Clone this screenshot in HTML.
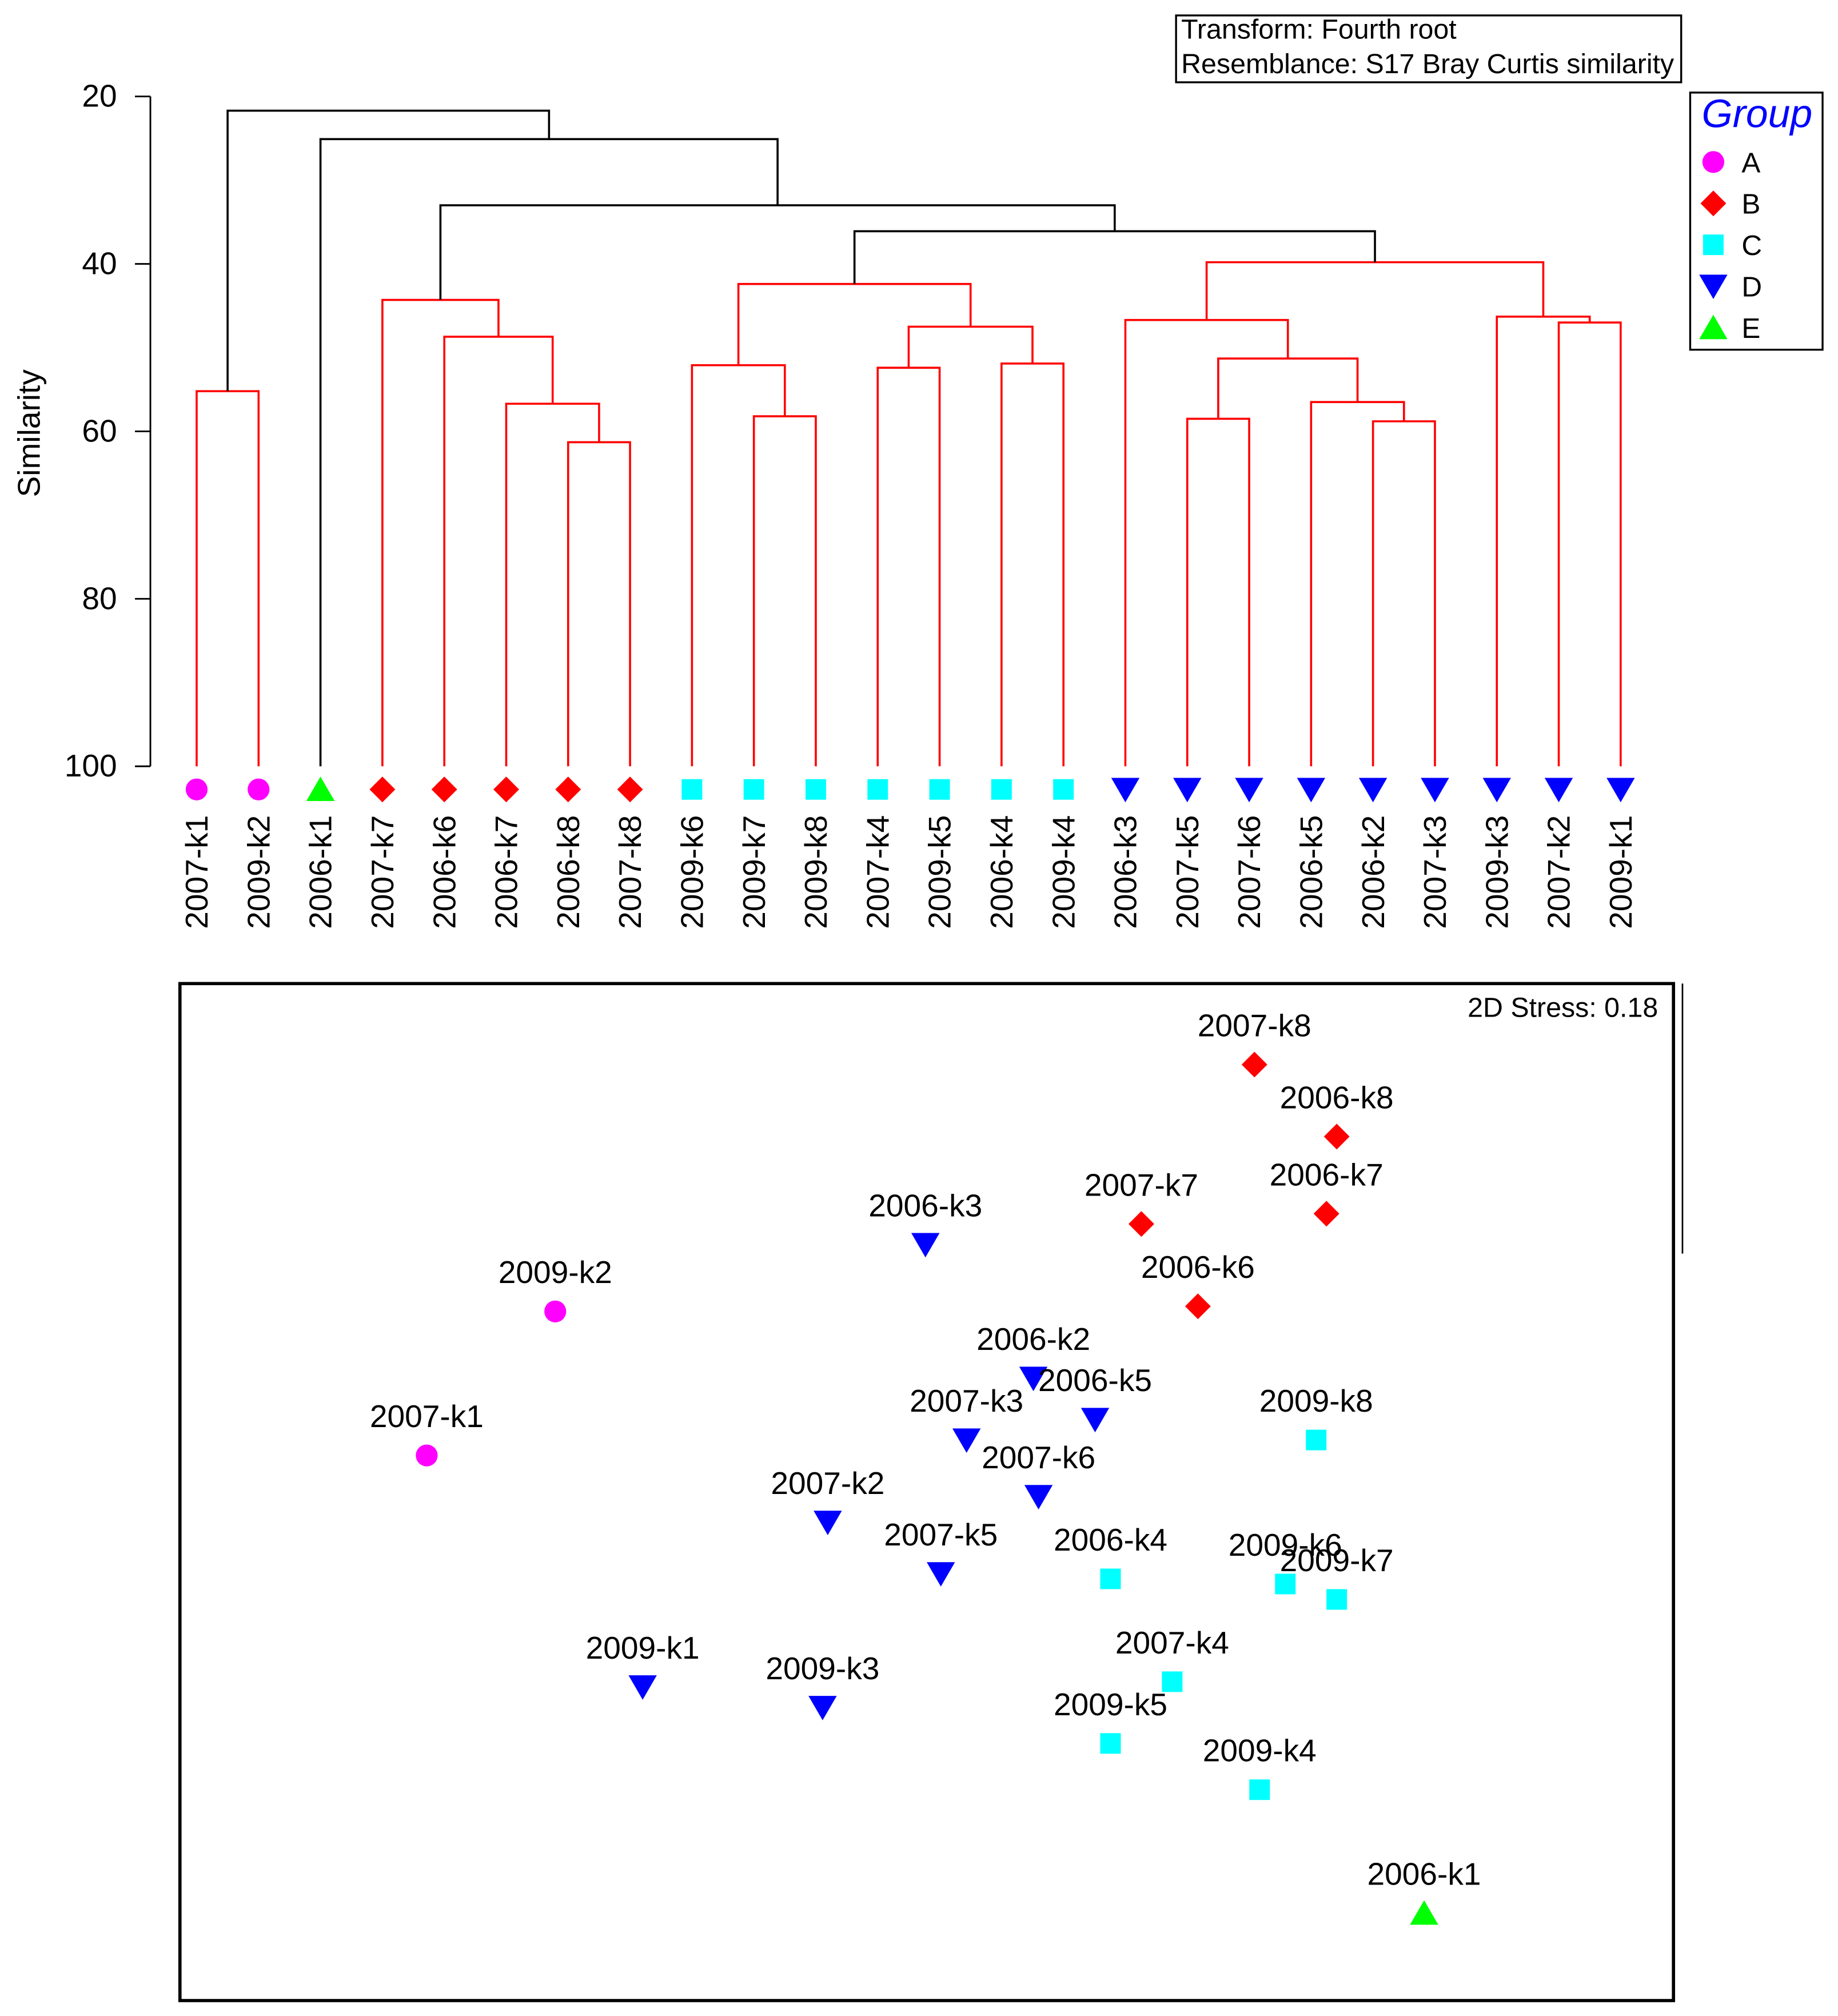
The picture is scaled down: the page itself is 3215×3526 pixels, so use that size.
<!DOCTYPE html>
<html><head><meta charset="utf-8"><style>
html,body{margin:0;padding:0;background:#fff}
svg{display:block;font-family:"Liberation Sans",Arial,sans-serif}
</style></head><body>
<svg id="fig" width="3215" height="3526" viewBox="0 0 1430 1568" preserveAspectRatio="none" xmlns="http://www.w3.org/2000/svg">
<rect x="0" y="0" width="1430" height="1568" fill="#fff"/>
<g>
<rect x="915" y="12" width="393" height="52" fill="none" stroke="#000" stroke-width="1.5"/>
<text x="919" y="30" font-size="21.5">Transform: Fourth root</text>
<text x="919" y="57" font-size="21.5">Resemblance: S17 Bray Curtis similarity</text>
</g>
<g>
<rect x="1315" y="72" width="103" height="200" fill="none" stroke="#000" stroke-width="1.5"/>
<text x="1367" y="99" font-size="31" font-style="italic" fill="#0000ff" text-anchor="middle">Group</text>
<g id="legendItems"></g>
</g>
<g id="dendro"></g>
<g>
<rect x="140" y="765" width="1162" height="791" fill="none" stroke="#000" stroke-width="2.5"/>
<line x1="1309" y1="765" x2="1309" y2="975" stroke="#000" stroke-width="1.2"/>
<text x="1290" y="791" font-size="21.5" text-anchor="end">2D Stress: 0.18</text>
<g id="mds"></g>
</g>
</svg>
<script>
const leafLabels=["2007-k1","2009-k2","2006-k1","2007-k7","2006-k6","2006-k7","2006-k8","2007-k8","2009-k6","2009-k7","2009-k8","2007-k4","2009-k5","2006-k4","2009-k4","2006-k3","2007-k5","2007-k6","2006-k5","2006-k2","2007-k3","2009-k3","2007-k2","2009-k1"];
const leafGroups=["A","A","E","B","B","B","B","B","C","C","C","C","C","C","C","D","D","D","D","D","D","D","D","D"];
const mergeLeft=[0,6,5,4,3,9,8,11,13,31,30,16,19,18,35,15,22,21,39,34,28,2,24];
const mergeRight=[1,7,25,26,27,10,29,12,14,32,33,17,20,36,37,38,23,40,41,42,43,44,45];
const mergeSim=[55.2,61.3,56.7,48.7,44.3,58.2,52.1,52.4,51.9,47.5,42.4,58.5,58.8,56.5,51.3,46.7,47.0,46.3,39.8,36.1,33.0,25.1,21.7];
const yTicks=[20,40,60,80,100];
const groupNames=["A","B","C","D","E"];
const mdsLabels=["2007-k8","2006-k8","2006-k7","2007-k7","2006-k6","2006-k3","2009-k2","2007-k1","2006-k2","2006-k5","2007-k3","2007-k6","2009-k8","2007-k2","2007-k5","2006-k4","2009-k6","2009-k7","2007-k4","2009-k1","2009-k3","2009-k5","2009-k4","2006-k1"];
const mdsGroups=["B","B","B","B","B","D","A","A","D","D","D","D","C","D","D","C","C","C","C","D","D","C","C","E"];
const mds1=[0.64,0.80,0.78,0.42,0.53,0.00,-0.72,-0.97,0.21,0.33,0.08,0.22,0.76,-0.19,0.03,0.36,0.70,0.80,0.48,-0.55,-0.20,0.36,0.65,0.97];
const mds2=[0.83,0.69,0.54,0.52,0.36,0.48,0.35,0.07,0.22,0.14,0.10,-0.01,0.10,-0.06,-0.16,-0.17,-0.18,-0.21,-0.37,-0.38,-0.42,-0.49,-0.58,-0.82];

const NS="http://www.w3.org/2000/svg";
function mk(tag,attrs,parent){const e=document.createElementNS(NS,tag);for(const k in attrs)e.setAttribute(k,attrs[k]);parent.appendChild(e);return e;}
const colors={A:"#ff00ff",B:"#ff0000",C:"#00ffff",D:"#0000ff",E:"#00ff00"};
function marker(g,grp,x,y,parent){
  let e;
  if(g==="A")e=mk("circle",{cx:x,cy:y,r:8.5,fill:colors.A},parent);
  else if(g==="B")e=mk("polygon",{points:`${x},${y-10} ${x+10},${y} ${x},${y+10} ${x-10},${y}`,fill:colors.B},parent);
  else if(g==="C")e=mk("rect",{x:x-8,y:y-8,width:16,height:16,fill:colors.C},parent);
  else if(g==="D")e=mk("polygon",{points:`${x-11},${y-9} ${x+11},${y-9} ${x},${y+10}`,fill:colors.D},parent);
  else e=mk("polygon",{points:`${x},${y-10} ${x+11},${y+9} ${x-11},${y+9}`,fill:colors.E},parent);
  return e;
}
const lg=document.getElementById("legendItems");
groupNames.forEach((g,i)=>{const y=126+i*32.2;
  const m=marker(g,g,1333,y,lg);
  
  
  const t=mk("text",{x:1355,y:y+8,"font-size":22},lg);t.textContent=g;
  
  
});
const D=document.getElementById("dendro");
const yS=s=>75+(s-20)*(521/80);
const xL=i=>153+i*48.17;
mk("line",{x1:117,y1:75,x2:117,y2:596,stroke:"#000","stroke-width":1.3},D);
yTicks.forEach(v=>{const y=yS(v);
  mk("line",{x1:105,y1:y,x2:117,y2:y,stroke:"#000","stroke-width":1.3},D);
  const t=mk("text",{x:91,y:y+8,"font-size":24.5,"text-anchor":"end"},D);t.textContent=v;
  
  
});
const yt=mk("text",{x:0,y:0,"font-size":24.5,"text-anchor":"middle",transform:"translate(31,337) rotate(-90)"},D);yt.textContent="Similarity";


const nx=[],ny=[],ng=[];
leafLabels.forEach((l,i)=>{nx.push(xL(i));ny.push(596);ng.push(leafGroups[i]);
  const m=marker(leafGroups[i],leafGroups[i],xL(i),614,D);
  
  
  const t=mk("text",{x:0,y:0,"font-size":24.5,"text-anchor":"end",transform:`translate(${xL(i)+8.5},634) rotate(-90)`},D);t.textContent=l;
  
  
});
mergeLeft.forEach((a,k)=>{const b=mergeRight[k];const y=yS(mergeSim[k]);
  const same=ng[a]&&ng[a]===ng[b];const col=same?"#ff0000":"#000";
  const p=mk("path",{d:`M${nx[a]},${ny[a]}V${y}H${nx[b]}V${ny[b]}`,fill:"none",stroke:col,"stroke-width":1.6},D);
  
  
  nx.push((nx[a]+nx[b])/2);ny.push(y);ng.push(same?ng[a]:null);
});
const M=document.getElementById("mds");
const mx=v=>720+v*400, my=v=>1160-v*400;
mdsLabels.forEach((l,i)=>{const x=mx(mds1[i]),y=my(mds2[i]);
  const m=marker(mdsGroups[i],mdsGroups[i],x,y,M);
  
  
  const t=mk("text",{x:x,y:y-22,"font-size":24.5,"text-anchor":"middle"},M);t.textContent=l;
  
  
});
</script>
</body></html>
